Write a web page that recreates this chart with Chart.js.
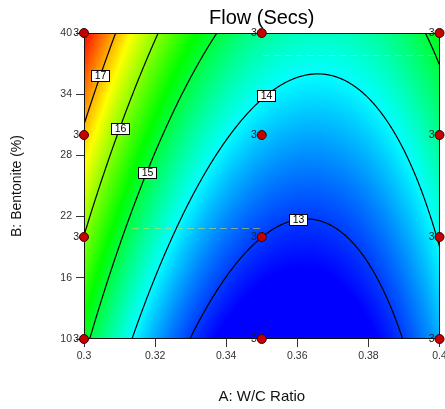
<!DOCTYPE html>
<html>
<head>
<meta charset="utf-8">
<script src="https://cdn.jsdelivr.net/npm/chart.js@4.4.1/dist/chart.umd.min.js"></script>
<style>
  html, body { margin: 0; padding: 0; background: #fff; }
</style>
</head>
<body>
<canvas id="flowChart" width="445" height="409"></canvas>
<script>
// Quadratic model for flow time, coded factors a = (A-0.35)/0.05, b = (B-25)/15
// order: intercept, a, b, a^2, b^2, ab
const flowCoef = [13.355, -1.064, 1.089, 2.015, 0.088, -0.282];
const contourLevels = [13, 14, 15, 16, 17];

// design points: W/C ratio, bentonite %, replicates
const pointsWC   = [0.3, 0.3, 0.3, 0.3, 0.35, 0.35, 0.35, 0.35, 0.4, 0.4, 0.4, 0.4];
const pointsBent = [10, 20, 30, 40, 10, 20, 30, 40, 10, 20, 30, 40];
const pointsReps = [3, 3, 3, 3, 3, 3, 3, 3, 3, 3, 3, 3];

const xTicks = [0.3, 0.32, 0.34, 0.36, 0.38, 0.4];
const yTicks = [10, 16, 22, 28, 34, 40];

const FONT = "'Liberation Sans', Arial, sans-serif";

function flow(A, B) {
  const a = (A - 0.35) / 0.05, b = (B - 25) / 15;
  const [c0, ca, cb, caa, cbb, cab] = flowCoef;
  return c0 + ca * a + cb * b + caa * a * a + cbb * b * b + cab * a * b;
}

// bentonite value on a contour for a given W/C ratio (model is quadratic in b)
function contourB(A, level) {
  const a = (A - 0.35) / 0.05;
  const [c0, ca, cb, caa, cbb, cab] = flowCoef;
  const qb = cb + cab * a, qc = c0 + ca * a + caa * a * a - level;
  const disc = qb * qb - 4 * cbb * qc;
  if (disc < 0) return null;
  const b = -2 * qc / (qb + Math.sqrt(disc));
  return 25 + 15 * b;
}

function heatColor(v, lo, hi) {
  const stops = [[0, 0, 255], [0, 255, 255], [0, 255, 0], [255, 255, 0], [255, 0, 0]];
  let t = Math.max(0, Math.min(1, (v - lo) / (hi - lo))) * 4;
  const k = Math.min(3, Math.floor(t)), f = t - k;
  return stops[k].map((c, i) => c + (stops[k + 1][i] - c) * f);
}

const surfacePlugin = {
  id: 'surface',
  beforeDatasetsDraw(chart, args, opts) {
    const { ctx, chartArea: ca, scales: { x, y } } = chart;
    const w = Math.round(ca.right - ca.left), h = Math.round(ca.bottom - ca.top);

    // colour fill
    const off = document.createElement('canvas');
    off.width = w; off.height = h;
    const octx = off.getContext('2d');
    const img = octx.createImageData(w, h);
    for (let j = 0; j < h; j++) {
      const B = y.getValueForPixel(ca.top + j + 0.5);
      for (let i = 0; i < w; i++) {
        const A = x.getValueForPixel(ca.left + i + 0.5);
        const c = heatColor(flow(A, B), opts.low, opts.high);
        const k = (j * w + i) * 4;
        img.data[k] = c[0]; img.data[k + 1] = c[1]; img.data[k + 2] = c[2]; img.data[k + 3] = 255;
      }
    }
    octx.putImageData(img, 0, 0);
    ctx.drawImage(off, ca.left, ca.top);

    ctx.save();
    ctx.beginPath();
    ctx.rect(ca.left, ca.top, ca.right - ca.left, ca.bottom - ca.top);
    ctx.clip();

    // faint guide dashes
    ctx.strokeStyle = 'rgba(210,225,80,0.55)';
    ctx.lineWidth = 1;
    ctx.setLineDash([7, 4]);
    opts.guides.forEach(g => {
      const py = Math.round(y.getPixelForValue(g.b)) + 0.5;
      ctx.beginPath();
      ctx.moveTo(x.getPixelForValue(g.from), py);
      ctx.lineTo(x.getPixelForValue(g.to), py);
      ctx.stroke();
    });
    ctx.setLineDash([]);

    // contour lines
    ctx.strokeStyle = '#000';
    ctx.lineWidth = 1.2;
    contourLevels.forEach(level => {
      ctx.beginPath();
      let pen = false;
      for (let px = ca.left - 2; px <= ca.right + 2; px += 0.5) {
        const B = contourB(x.getValueForPixel(px), level);
        if (B === null) { pen = false; continue; }
        const py = Math.max(-1000, Math.min(2000, y.getPixelForValue(B)));
        if (pen) ctx.lineTo(px, py); else { ctx.moveTo(px, py); pen = true; }
      }
      ctx.stroke();
    });
    ctx.restore();

    // contour value boxes
    ctx.save();
    ctx.font = '10.5px ' + FONT;
    ctx.textAlign = 'center';
    ctx.textBaseline = 'middle';
    ctx.lineWidth = 1;
    contourLevels.forEach(level => {
      const A = opts.labelAt[level];
      const px = x.getPixelForValue(A), py = y.getPixelForValue(contourB(A, level));
      const bw = 18, bh = 11;
      const lx = Math.round(px - bw / 2) + 0.5, ly = Math.round(py - bh / 2) + 0.5;
      ctx.fillStyle = '#fff';
      ctx.fillRect(lx, ly, bw, bh);
      ctx.strokeStyle = '#000';
      ctx.strokeRect(lx, ly, bw, bh);
      ctx.fillStyle = '#000';
      ctx.fillText(String(level), lx + bw / 2, ly + bh / 2 + 0.5);
    });
    ctx.restore();

    // frame
    ctx.save();
    ctx.strokeStyle = '#111';
    ctx.lineWidth = 1;
    ctx.strokeRect(ca.left + 0.5, ca.top + 0.5, w - 1, h - 1);
    ctx.restore();

    // replicate counts beside design points
    ctx.save();
    ctx.font = '10.5px ' + FONT;
    ctx.fillStyle = '#222';
    ctx.textAlign = 'right';
    ctx.textBaseline = 'middle';
    pointsWC.forEach((A, i) => {
      ctx.fillText(String(pointsReps[i]), x.getPixelForValue(A) - 5, y.getPixelForValue(pointsBent[i]) + 0.5);
    });
    ctx.restore();
  }
};

Chart.defaults.font.family = FONT;

new Chart(document.getElementById('flowChart').getContext('2d'), {
  type: 'scatter',
  data: {
    datasets: [{
      data: pointsWC.map((A, i) => ({ x: A, y: pointsBent[i] })),
      pointRadius: 4.5,
      pointBackgroundColor: '#c40000',
      pointBorderColor: '#3a0000',
      pointBorderWidth: 1,
      clip: false
    }]
  },
  options: {
    responsive: false,
    animation: false,
    events: [],
    layout: { padding: { left: 0, right: 5, top: 0, bottom: 0 } },
    plugins: {
      legend: { display: false },
      tooltip: { enabled: false },
      title: {
        display: true,
        text: 'Flow (Secs)',
        fullSize: false,
        color: '#000',
        font: { size: 20, weight: 'normal', lineHeight: 1.2 },
        padding: { top: 6, bottom: 3 }
      },
      surface: {
        low: 12.7,
        high: 17.9,
        labelAt: { 13: 0.3601, 14: 0.3513, 15: 0.3177, 16: 0.3100, 17: 0.3046 },
        guides: [
          { b: 37.85, from: 0.3503, to: 0.4 },
          { b: 20.9, from: 0.3135, to: 0.3495 }
        ]
      }
    },
    scales: {
      x: {
        type: 'linear',
        min: 0.3,
        max: 0.4,
        afterBuildTicks: s => { s.ticks = xTicks.map(v => ({ value: v })); },
        afterFit: s => { s.height = 70; s.paddingLeft = 0; s.paddingRight = 0; },
        grid: { drawOnChartArea: false, drawTicks: true, tickLength: 8, color: '#333' },
        border: { display: false },
        ticks: {
          color: '#333',
          font: { size: 10.5 },
          padding: 3,
          maxRotation: 0,
          autoSkip: false,
          callback: v => String(+v.toFixed(2))
        },
        title: {
          display: true,
          text: 'A: W/C Ratio',
          color: '#111',
          font: { size: 15 },
          padding: { top: 0, bottom: 3 }
        }
      },
      y: {
        type: 'linear',
        min: 10,
        max: 40,
        afterBuildTicks: s => { s.ticks = yTicks.map(v => ({ value: v })); },
        afterFit: s => { s.width = 84; s.paddingTop = 0; s.paddingBottom = 0; },
        grid: { drawOnChartArea: false, drawTicks: true, tickLength: 8, color: '#333' },
        border: { display: false },
        ticks: { color: '#333', font: { size: 10.5 }, padding: 4, autoSkip: false },
        title: {
          display: true,
          text: 'B: Bentonite (%)',
          color: '#111',
          font: { size: 14 },
          padding: { top: 9, bottom: 0 }
        }
      }
    }
  },
  plugins: [surfacePlugin]
});
</script>
</body>
</html>
